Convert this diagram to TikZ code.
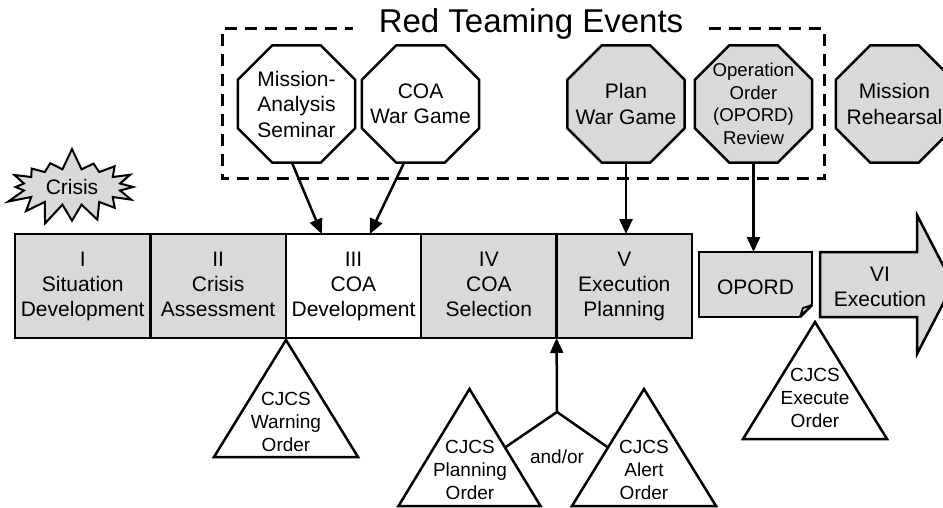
\documentclass[tikz,border=0pt]{standalone}
\usepackage{fontspec}
\setmainfont{Liberation Sans}
\usetikzlibrary{shapes.geometric,shapes.symbols,arrows.meta,positioning}

\definecolor{phasegray}{gray}{0.85}

\begin{document}
\begin{tikzpicture}[x=1pt, y=-1pt,
    % Styles des phases
    phase/.style={rectangle, draw, line width=2.5pt, fill=phasegray, minimum width=135.4pt,
                  minimum height=104pt, outer sep=0pt, inner sep=0pt, align=center,
                  font=\fontsize{21}{25}\selectfont, execute at end node={\vphantom{p}}},
    opordbox/.style={rectangle, draw, line width=2.5pt, fill=phasegray, minimum width=113pt,
                  minimum height=65pt, outer sep=0pt, inner sep=0pt, text height=21pt,
                  font=\fontsize{21}{25}\selectfont},
    % Styles des evenements (octogones)
    event/.style={regular polygon, regular polygon sides=8, draw, line width=2.5pt, fill=white,
                  minimum size=127pt, inner sep=0pt},
    eventtext/.style={align=center, inner sep=0pt, font=\fontsize{21}{25.5}\selectfont},
    % Style des ordres (triangles)
    ordertext/.style={align=center, inner sep=0pt, font=\fontsize{19}{23.3}\selectfont},
    triangle/.style={draw, line width=2.5pt, line join=miter},
    % Style des fleches
    arrow/.style={-{Triangle[length=15pt, width=13pt]}, line width=2.5pt},
    link/.style={line width=2.5pt},
    dashbox/.style={line width=3pt, dash pattern=on 12pt off 8pt},
    title/.style={font=\fontsize{33}{38}\selectfont, inner xsep=26pt, inner ysep=0pt}
]
\clip (0,0) rectangle (943,508);

% ==========================================
% RED TEAMING EVENTS
% ==========================================
\node[title, anchor=base] (rtitle) at (531,33) {Red Teaming Events};
\coordinate (rtnw) at (222,29);
\coordinate (rtse) at (824,179);
\draw[dashbox] (rtitle.east |- rtnw) -| (rtse) -| (rtnw) -- (rtitle.west |- rtnw);

\node[event, label={[eventtext]center:{Mission-\\Analysis\\Seminar}}] (mas) at (296.5,104) {};
\node[event, label={[eventtext]center:{COA\\War Game}}] (coawg) at (420.5,104) {};
\node[event, fill=phasegray, label={[eventtext]center:{Plan\\War Game}}] (pwg) at (626,104) {};
\node[event, fill=phasegray,
      label={[eventtext, font=\fontsize{18.6}{22.7}\selectfont]center:{Operation\\Order\\(OPORD)\\Review}}]
      (opr) at (753.5,104) {};
\node[event, fill=phasegray, label={[eventtext]center:{Mission\\Rehearsal}}] (rehearsal) at (894.5,104) {};

% ==========================================
% CRISE
% ==========================================
\node[starburst, starburst points=16, starburst point height=22pt, random starburst=7,
      draw, line width=2pt, fill=phasegray, minimum width=142pt, minimum height=80pt,
      inner sep=0pt, font=\fontsize{21}{25}\selectfont] (crisis) at (72,187) {Crisis};

% ==========================================
% PHASES
% ==========================================
\node[phase] (p1) at (82.7,286) {I\\Situation\\Development};
\node[phase] (p2) [right=0pt of p1] {II\\Crisis\\Assessment};
\node[phase, fill=white] (p3) [right=0pt of p2] {III\\COA\\Development};
\node[phase] (p4) [right=0pt of p3] {IV\\COA\\Selection};
\node[phase] (p5) [right=0pt of p4] {V\\Execution\\Planning};

% OPORD avec coin replie
\node[opordbox] (opord) at (755.5,284.5) {OPORD};
\fill[white] ([xshift=-13.5pt,yshift=-1.5pt]opord.south east) -- ([xshift=1.5pt,yshift=-1.5pt]opord.south east)
    -- ([xshift=1.5pt,yshift=13.5pt]opord.south east) -- cycle;
\draw[link, line width=1.8pt, fill=white, line join=round] ([xshift=-12pt]opord.south east)
    -- ([xshift=-9pt,yshift=9pt]opord.south east) -- ([yshift=12pt]opord.south east) -- cycle;
\draw[link] ([xshift=-12pt]opord.south east) -- ([yshift=12pt]opord.south east);

% Phase VI (fleche)
\draw[link, fill=phasegray, line join=miter] (820,252) -- (917,252) -- (917,215) -- (953,284.5)
    -- (917,354) -- (917,317) -- (820,317) -- cycle;
\node[align=center, font=\fontsize{21}{25}\selectfont] (exec) at (880,287) {VI\\Execution};

% ==========================================
% ORDRES CJCS
% ==========================================
\node[ordertext] (warn) at (286,422) {CJCS\\Warning\\Order};
\draw[triangle] (286,340) -- (358,457) -- (214,457) -- cycle;

\node[ordertext] (plan) at (470,470) {CJCS\\Planning\\Order};
\draw[triangle] (469.5,389) -- (540.5,506) coordinate[pos=0.5] (plan side) -- (398.5,506) -- cycle;

\node[ordertext] (alert) at (644,470) {CJCS\\Alert\\Order};
\draw[triangle] (644,389) -- (572,506) coordinate[pos=0.5] (alert side) -- (716,506) -- cycle;

\node[ordertext] (execord) at (815,398) {CJCS\\Execute\\Order};
\draw[triangle] (815,322) -- (887,439) -- (743,439) -- cycle;

\coordinate (andor) at (557,412);
\node[ordertext, anchor=base] (andortext) at (557,463) {and/or};
\draw[link, line join=miter] (plan side) -- (andor) -- (alert side);

% ==========================================
% FLECHES
% ==========================================
\draw[arrow] ([xshift=-4pt]mas.south) -- ([xshift=36pt]p3.north west);
\draw[arrow] ([xshift=-17pt]coawg.south) -- ([xshift=84pt]p3.north west);
\draw[arrow] (pwg.south) -- (pwg.south |- p5.north);
\draw[arrow] (opr.south) -- (opr.south |- opord.north);
\draw[arrow] (andor) -- (p4.south east);

\end{tikzpicture}
\end{document}
